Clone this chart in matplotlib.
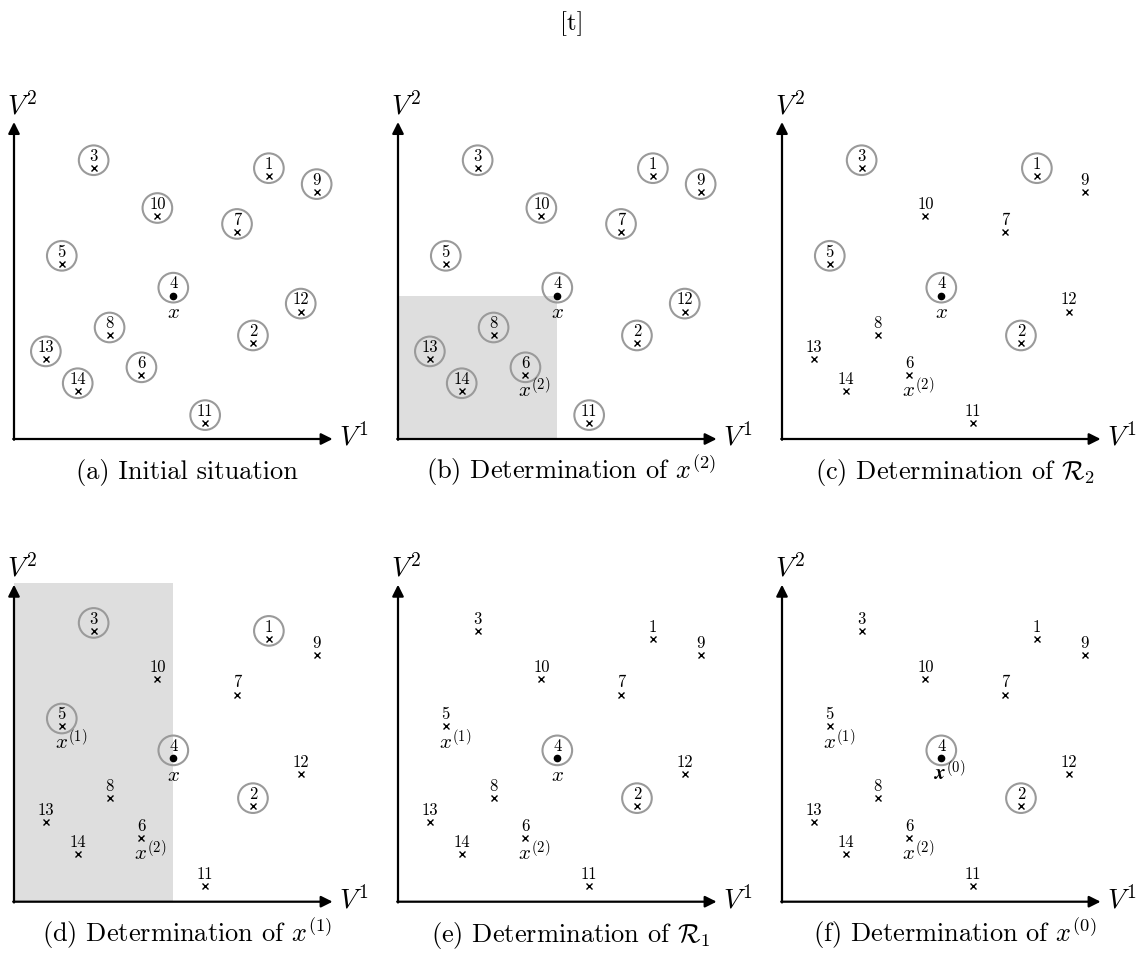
import matplotlib

matplotlib.use("Agg")
import matplotlib.pyplot as plt
from matplotlib.patches import Circle, Rectangle

plt.rcParams["font.family"] = ["cmr10", "DejaVu Serif"]
plt.rcParams["mathtext.fontset"] = "cm"
plt.rcParams["axes.unicode_minus"] = False

# point ids and coordinates (in V^1 / V^2 units)
point_ids = [1, 2, 3, 4, 5, 6, 7, 8, 9, 10, 11, 12, 13, 14]
v1 = [16, 15, 5, 10, 3, 8, 14, 6, 19, 9, 12, 18, 2, 4]
v2 = [16.5, 6, 17, 9, 11, 4, 13, 6.5, 15.5, 14, 1, 8, 5, 3]

captions = [
    "(a) Initial situation",
    "(b) Determination of $x^{(2)}$",
    "(c) Determination of $\\mathcal{R}_2$",
    "(d) Determination of $x^{(1)}$",
    "(e) Determination of $\\mathcal{R}_1$",
    "(f) Determination of $x^{(0)}$",
]
# which points carry a grey ring in each panel
circled = [
    point_ids,
    point_ids,
    [1, 2, 3, 4, 5],
    [1, 2, 3, 4, 5],
    [2, 4],
    [2, 4],
]
# shaded region (x_max, y_max) or None
shaded = [None, (10, 9), None, (10, 20), None, None]
# names written under points
names = [
    {4: "$x$"},
    {4: "$x$", 6: "$x^{(2)}$"},
    {4: "$x$", 6: "$x^{(2)}$"},
    {4: "$x$", 6: "$x^{(2)}$", 5: "$x^{(1)}$"},
    {4: "$x$", 6: "$x^{(2)}$", 5: "$x^{(1)}$"},
    {4: "$\\boldsymbol{x}^{(0)}$", 6: "$x^{(2)}$", 5: "$x^{(1)}$"},
]

W, H = 1144, 958
fig = plt.figure(figsize=(W / 100, H / 100), dpi=100)
fig.text(0.5, 1 - 30 / H, "[t]", ha="center", va="baseline", fontsize=18)

s = 15.93  # pixels per unit
grey = "#9a9a9a"

for k in range(6):
    col, row = k % 3, k // 3
    x0 = 14 + 384 * col
    y0 = 439 + 462.7 * row
    ax = fig.add_axes([(x0 - s) / W, 1 - (y0 + 3 * s) / H, 24 * s / W, 24 * s / H])
    ax.set_xlim(-1, 23)
    ax.set_ylim(-3, 21)
    ax.axis("off")

    if shaded[k] is not None:
        ax.add_patch(Rectangle((0, 0), shaded[k][0], shaded[k][1],
                               facecolor="#dedede", edgecolor="none", zorder=0))

    # axes arrows
    arrow = dict(arrowstyle="-|>", lw=1.6, color="black", mutation_scale=17,
                 shrinkA=0, shrinkB=0)
    ax.annotate("", xy=(20, 0), xytext=(-0.05, 0), arrowprops=arrow)
    ax.annotate("", xy=(0, 19.9), xytext=(0, -0.05), arrowprops=arrow)
    ax.text(20.4, -0.4, "$V^1$", fontsize=20, ha="left", va="baseline")
    ax.text(-0.45, 20.4, "$V^2$", fontsize=20, ha="left", va="baseline")

    for pid, x, y in zip(point_ids, v1, v2):
        if pid == 4:
            ax.plot(x, y, "o", color="black", ms=4.5, zorder=3)
        else:
            ax.plot(x, y, "x", color="black", ms=3.8, mew=1.0, zorder=3)
        ax.text(x, y + 0.45, str(pid), fontsize=12, ha="center", va="baseline", zorder=3)
        if pid in circled[k]:
            ax.add_patch(Circle((x, y + 0.5), 0.93, fill=False, edgecolor=grey,
                                lw=1.5, zorder=2))
        if pid in names[k]:
            label = names[k][pid]
            if label == "$x$":
                ax.text(x, y - 1.4, label, fontsize=15, ha="center", va="baseline")
            else:
                ax.text(x - 0.45, y - 1.4, label, fontsize=15, ha="left", va="baseline")

    ax.text(10.85, -2.53, captions[k], fontsize=19, ha="center", va="baseline")

fig.savefig("out.png", dpi=100)
